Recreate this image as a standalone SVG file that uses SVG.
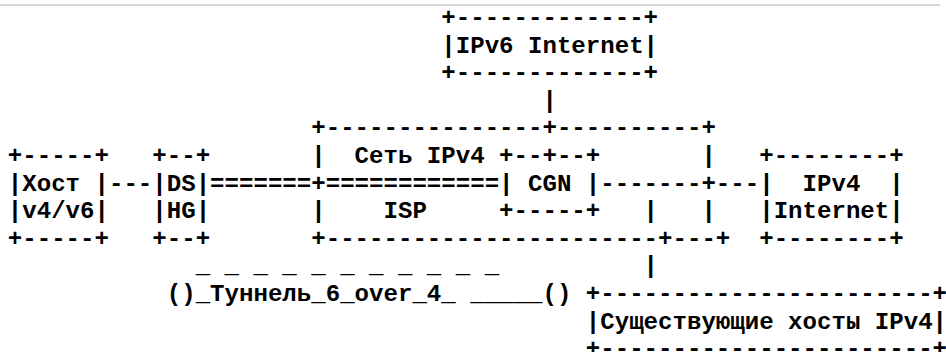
<svg xmlns="http://www.w3.org/2000/svg" width="946" height="352" viewBox="0 0 946 352" xml:space="preserve">
<style>
text{font-family:"Liberation Mono","DejaVu Sans Mono",monospace;font-weight:bold;font-size:24.08px;fill:#000;white-space:pre}
.rule{stroke:#c8c8c8;stroke-width:1.5}
</style>
<rect width="946" height="352" fill="#fff"/>
<line class="rule" x1="0" y1="5" x2="940" y2="5"/>
<g id="ipv6-internet">
<text x="441.3" y="25">+-------------+</text>
<text x="441.3" y="52.6">|IPv6 Internet|</text>
<text x="441.3" y="80.2">+-------------+</text>
</g>
<g id="host">
<text x="7.8" y="163">+-----+</text>
<text x="7.8" y="190.6">|Хост |</text>
<text x="7.8" y="218.2">|v4/v6|</text>
<text x="7.8" y="245.8">+-----+</text>
</g>
<g id="ds-hg">
<text x="152.3" y="163">+--+</text>
<text x="152.3" y="190.6">|DS|</text>
<text x="152.3" y="218.2">|HG|</text>
<text x="152.3" y="245.8">+--+</text>
</g>
<g id="isp-network">
<text x="311.25" y="135.4">+---------------+----------+</text>
<text x="311.25" y="163">|</text>
<text x="354.6" y="163">Сеть IPv4</text>
<text x="701.4" y="163">|</text>
<text x="311.25" y="218.2">|</text>
<text x="383.5" y="218.2">ISP</text>
<text x="701.4" y="218.2">|</text>
<text x="311.25" y="245.8">+-----------------------+---+</text>
</g>
<g id="cgn">
<text x="499.1" y="163">+--+--+</text>
<text x="499.1" y="190.6">| CGN |</text>
<text x="499.1" y="218.2">+-----+</text>
</g>
<g id="ipv4-internet">
<text x="759.2" y="163">+--------+</text>
<text x="759.2" y="190.6">|  IPv4  |</text>
<text x="759.2" y="218.2">|Internet|</text>
<text x="759.2" y="245.8">+--------+</text>
</g>
<g id="existing-ipv4-hosts">
<text x="585.8" y="301">+-----------------------+</text>
<text x="585.8" y="328.6">|Существующие хосты IPv4|</text>
<text x="585.8" y="356.2">+-----------------------+</text>
</g>
<g id="tunnel">
<text x="195.65" y="273.4">_ _ _ _ _ _ _ _ _ _ _</text>
<text x="166.75" y="301">()_Туннель_6_over_4_ _____()</text>
</g>
<g id="connectors">
<text x="542.45" y="107.8">|</text>
<text x="108.95" y="190.6">---</text>
<text x="210.1" y="190.6">=======+============</text>
<text x="600.25" y="190.6">-------+---</text>
<text x="643.6" y="218.2">|</text>
<text x="643.6" y="273.4">|</text>
</g>
</svg>
